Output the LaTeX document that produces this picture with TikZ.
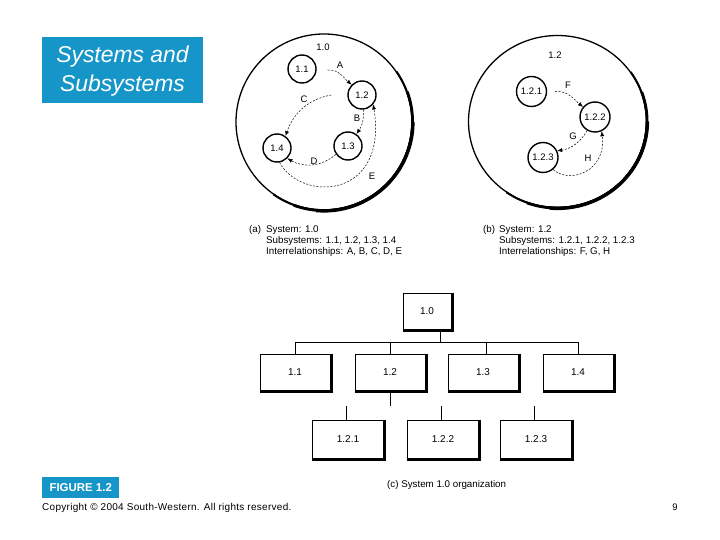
\documentclass[tikz,border=0pt]{standalone}
\usepackage{fontspec}
\setmainfont{Liberation Sans}
\usetikzlibrary{arrows.meta}
\definecolor{cblue}{RGB}{22,150,200}
\begin{document}
\begin{tikzpicture}[x=1bp,y=1bp,
  rel/.style={dash pattern=on 2bp off 1.5bp, line width=0.5bp, -{Latex[length=5bp,width=4bp]}},
  sc/.style={circle, draw, line width=1.4bp, minimum size=28bp, inner sep=0pt, font=\fontsize{9.5}{11}\selectfont},
  scb/.style={sc, minimum size=30bp},
  lbl/.style={font=\fontsize{9.5}{11}\selectfont, inner sep=0pt},
  obox/.style={draw, line width=0.9bp, minimum width=70bp, minimum height=36bp, inner sep=0pt, font=\fontsize{10}{12}\selectfont},
  captxt/.style={font=\fontsize{9.8}{11}\selectfont, inner sep=0pt, anchor=base west},
  bigc/.style={line width=1.3bp},
  shade/.style={line width=2.6bp},
  conn/.style={line width=0.8bp},
]
\useasboundingbox (0,0) rectangle (720,-540);
\fill[white] (0,0) rectangle (720,-540);

% title
\node[fill=cblue, minimum width=161bp, minimum height=66bp, anchor=north west, inner sep=0pt] (title) at (42,-37) {};
\node[font=\fontsize{23}{28}\selectfont\itshape, text=white, anchor=base, inner sep=0pt] (t1) at (122.5,-63) {Systems and};
\node[font=\fontsize{23}{28}\selectfont\itshape, text=white, anchor=base, inner sep=0pt] (t2) at (122.5,-92) {Subsystems};

% (a) system 1.0
\draw[bigc] (324,-122) circle [radius=88];
\draw[line width=2bp] (324,-122) ++(-125:88.3) arc[start angle=-125, end angle=35, radius=88.3];
\draw[line width=2.8bp] (324,-122) ++(-110:88.6) arc[start angle=-110, end angle=20, radius=88.6];
\draw[line width=3.4bp] (324,-122) ++(-95:88.9) arc[start angle=-95, end angle=0, radius=88.9];
\node[lbl] (l10) at (323,-47) {1.0};
\node[sc] (a11) at (302,-69) {1.1};
\node[sc] (a12) at (362,-95) {1.2};
\node[sc] (a13) at (348,-146) {1.3};
\node[sc] (a14) at (277,-148) {1.4};
\node[lbl] (lA) at (340,-65) {A};
\node[lbl] (lB) at (357,-118) {B};
\node[lbl] (lC) at (304,-99) {C};
\node[lbl] (lD) at (314,-161) {D};
\node[lbl] (lE) at (372,-176) {E};
\draw[rel] ([shift={(11,-1)}]a11.east) to[out=5,in=140] (a12.135);
\draw[rel] ([xshift=-16]a12.west) to[out=190,in=70] (a14.55);
\draw[rel] (a12.-85) to[bend left=20] (a13.55);
\draw[rel] (a13.215) to[bend left=35] (a14.-45);
\draw[rel] (a14.-80) .. controls +(22,-40) and +(15,-95) .. (a12.-40);

% (b) system 1.2
\draw[bigc] (557.5,-121.5) ellipse [x radius=89, y radius=86];
\draw[line width=2bp] (557.5,-121.5) ++(-125:89.3 and 86.3) arc[start angle=-125, end angle=35, x radius=89.3, y radius=86.3];
\draw[line width=2.8bp] (557.5,-121.5) ++(-110:89.6 and 86.6) arc[start angle=-110, end angle=20, x radius=89.6, y radius=86.6];
\draw[line width=3.4bp] (557.5,-121.5) ++(-95:89.9 and 86.9) arc[start angle=-95, end angle=0, x radius=89.9, y radius=86.9];
\node[lbl] (l12) at (555,-55) {1.2};
\node[scb] (b1) at (531.5,-91.5) {1.2.1};
\node[scb] (b2) at (595,-117) {1.2.2};
\node[scb] (b3) at (543,-157.5) {1.2.3};
\node[lbl] (lF) at (568,-85) {F};
\node[lbl] (lG) at (573,-136) {G};
\node[lbl] (lH) at (588,-158) {H};
\draw[rel] ([xshift=8]b1.east) to[out=5,in=140] (b2.140);
\draw[rel] (b2.-120) to[bend left=25] (b3.25);
\draw[rel] (b3.-50) .. controls +(17,-15) and +(5,-40) .. (b2.-65);

% captions
\node[captxt] (ca1) at (249,-232.5) {(a)};
\node[captxt] (ca2) at (266,-232.5) {System: 1.0};
\node[captxt] (ca3) at (266,-243.5) {Subsystems: 1.1, 1.2, 1.3, 1.4};
\node[captxt] (ca4) at (266,-254.5) {Interrelationships: A, B, C, D, E};
\node[captxt] (cb1) at (483,-232.5) {(b)};
\node[captxt] (cb2) at (499,-232.5) {System: 1.2};
\node[captxt] (cb3) at (499,-243.5) {Subsystems: 1.2.1, 1.2.2, 1.2.3};
\node[captxt] (cb4) at (499,-254.5) {Interrelationships: F, G, H};

% (c) organization chart
\node[obox, minimum width=48bp] (c10) at (427,-311) {1.0};
\node[obox] (c11) at (295,-372) {1.1};
\node[obox] (c12) at (390,-372) {1.2};
\node[obox] (c13) at (483,-372) {1.3};
\node[obox] (c14) at (578,-372) {1.4};
\node[obox, minimum width=71bp, minimum height=38bp] (c121) at (348,-439) {1.2.1};
\node[obox, minimum width=71bp, minimum height=38bp] (c122) at (443,-439) {1.2.2};
\node[obox, minimum width=71bp, minimum height=38bp] (c123) at (536,-439) {1.2.3};
\foreach \n in {c10,c11,c12,c13,c14,c121,c122,c123}{
  \draw[shade] ([shift={(1,0)}]\n.north east) -- ([shift={(1,-1)}]\n.south east) -- ([shift={(0,-1)}]\n.south west);
}
\coordinate (bus) at (0,-342);
\draw[conn] ([xshift=13]c10.south) -- ([xshift=13]c10.south |- bus);
\draw[conn] (c11.north) -- (c11.north |- bus) -- (c14.north |- bus) -- (c14.north);
\draw[conn] (c12.north) -- (c12.north |- bus);
\draw[conn] ([xshift=3]c13.north) -- ([xshift=3]c13.north |- bus);
\draw[conn] ([yshift=-2]c12.south) -- ++(0,-14);
\draw[conn] ([xshift=-1.5]c121.north) -- ++(0,14);
\draw[conn] ([xshift=-2]c122.north) -- ++(0,14);
\draw[conn] ([xshift=-2]c123.north) -- ++(0,14);
\node[captxt] (cc) at (387,-487.5) {(c) System 1.0 organization};

% footer
\node[fill=cblue, minimum width=77bp, minimum height=21bp, anchor=north west, inner sep=0pt] (fig) at (42,-477) {};
\node[font=\fontsize{11.5}{13}\selectfont\bfseries, text=white, inner sep=0pt] (figt) at (fig.center) {FIGURE 1.2};
\node[font={\addfontfeatures{LetterSpace=3}\fontsize{10}{11}\selectfont}, anchor=base west, inner sep=0pt] (copy) at (42,-510.5) {Copyright © 2004 South-Western. All rights reserved.};
\node[font=\fontsize{9.5}{11}\selectfont, inner sep=0pt] (pg) at (675,-507) {9};
\end{tikzpicture}
\end{document}
